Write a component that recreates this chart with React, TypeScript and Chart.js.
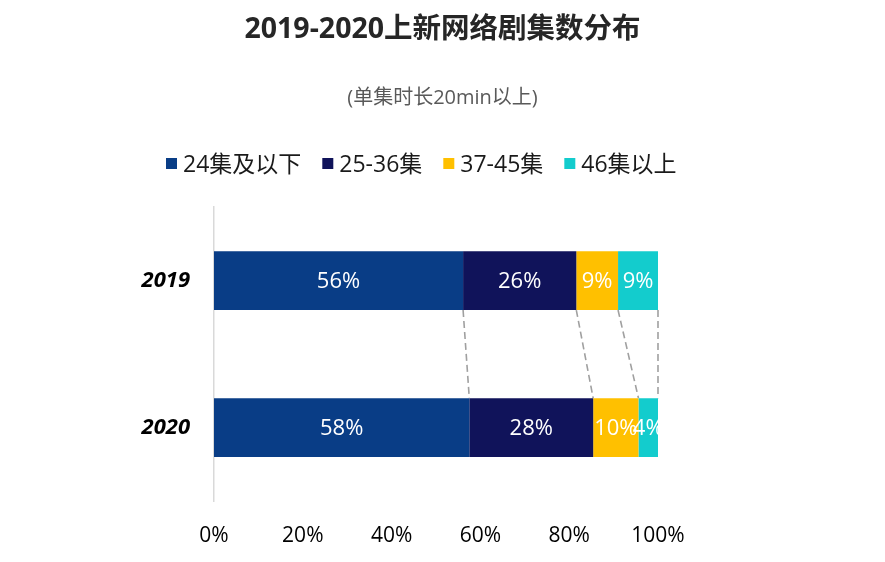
import { useEffect, useRef } from 'react';
import { Chart, registerables } from 'chart.js';

Chart.register(...registerables);

const FONT = '"Open Sans", "Noto Sans CJK SC", sans-serif';

const categories = ['2019', '2020'];
const seriesNames = ['24集及以下', '25-36集', '37-45集', '46集以上'];
const seriesColors = ['#093d86', '#10135a', '#ffc000', '#13cccd'];
const share24Below = [56.1, 57.5];
const share25to36 = [25.5, 27.9];
const share37to45 = [9.4, 10.2];
const share46Above = [9.0, 4.4];
const xTickStep = 20;

const titleText = '2019-2020上新网络剧集数分布';
const subtitleText = '(单集时长20min以上)';

const seriesValues = [share24Below, share25to36, share37to45, share46Above];

const valueLabelPlugin = {
  id: 'valueLabels',
  afterDatasetsDraw(chart: any) {
    const ctx = chart.ctx;
    ctx.save();
    ctx.fillStyle = '#ffffff';
    ctx.font = `22px ${FONT}`;
    ctx.textAlign = 'center';
    ctx.textBaseline = 'middle';
    chart.data.datasets.forEach((ds: any, i: number) => {
      const meta = chart.getDatasetMeta(i);
      meta.data.forEach((el: any, j: number) => {
        const v = ds.data[j];
        ctx.fillText(Math.round(v) + '%', (el.x + el.base) / 2, el.y + 1);
      });
    });
    ctx.restore();
  },
};

const connectorPlugin = {
  id: 'connectors',
  beforeDatasetsDraw(chart: any) {
    const ctx = chart.ctx;
    ctx.save();
    ctx.strokeStyle = '#a0a0a0';
    ctx.lineWidth = 1.6;
    ctx.setLineDash([7, 4]);
    chart.data.datasets.forEach((_ds: any, i: number) => {
      const meta = chart.getDatasetMeta(i);
      const a = meta.data[0];
      const b = meta.data[1];
      if (!a || !b) return;
      ctx.beginPath();
      ctx.moveTo(a.x, a.y + a.height / 2);
      ctx.lineTo(b.x, b.y - b.height / 2);
      ctx.stroke();
    });
    ctx.restore();
  },
};

const customLegendPlugin = {
  id: 'customLegend',
  afterDraw(chart: any) {
    const ctx = chart.ctx;
    ctx.save();
    ctx.font = `23px ${FONT}`;
    ctx.textBaseline = 'middle';
    ctx.textAlign = 'left';
    let x = 166;
    const y = 164;
    const box = 11;
    chart.data.datasets.forEach((ds: any) => {
      ctx.fillStyle = ds.backgroundColor;
      ctx.fillRect(x, y - box / 2 - 0.5, box, box);
      ctx.fillStyle = '#1a1a1a';
      const tx = x + box + 6;
      ctx.fillText(ds.label, tx, y + 1);
      x = tx + ctx.measureText(ds.label).width + 21;
    });
    ctx.restore();
  },
};

export default function App() {
  const ref = useRef<HTMLCanvasElement>(null);
  useEffect(() => {
    document.body.style.margin = '0';
    const chart = new Chart(ref.current as HTMLCanvasElement, {
      type: 'bar',
      data: {
        labels: categories,
        datasets: seriesNames.map((name, i) => ({
          label: name,
          data: seriesValues[i],
          backgroundColor: seriesColors[i],
          borderWidth: 0,
          barPercentage: 0.4,
          categoryPercentage: 1,
        })),
      },
      options: {
        indexAxis: 'y',
        animation: false,
        responsive: true,
        maintainAspectRatio: false,
        layout: { padding: 0 },
        plugins: {
          legend: { display: false },
          tooltip: { enabled: false },
          title: {
            display: true,
            text: titleText,
            color: '#262626',
            font: { family: FONT, size: 28.5, weight: 'bold' },
            padding: { top: 13, bottom: 39 },
          },
          subtitle: {
            display: true,
            text: subtitleText,
            color: '#595959',
            font: { family: FONT, size: 20 },
            padding: { top: 0, bottom: 97 },
          },
        },
        scales: {
          x: {
            type: 'linear',
            stacked: true,
            min: 0,
            max: 100,
            ticks: {
              stepSize: xTickStep,
              callback: (v: any) => v + '%',
              font: { family: FONT, size: 21 },
              color: '#000000',
              padding: 22,
            },
            grid: { display: false, drawTicks: false },
            border: { display: false },
            afterFit: (s: any) => {
              s.height = 61;
            },
          },
          y: {
            type: 'category',
            stacked: true,
            position: 'left',
            ticks: {
              font: { family: FONT, size: 22, weight: 'bold', style: 'italic' },
              color: '#000000',
              padding: 24,
            },
            grid: { display: false, drawTicks: false },
            border: { display: true, color: '#d9d9d9', width: 1.5 },
            afterFit: (s: any) => {
              s.width = 214;
            },
          },
          yRight: {
            type: 'category',
            position: 'right',
            ticks: { display: false },
            grid: { display: false, drawTicks: false },
            border: { display: false },
            afterFit: (s: any) => {
              s.width = 227;
            },
          },
        },
      } as any,
      plugins: [connectorPlugin, valueLabelPlugin, customLegendPlugin],
    });
    return () => chart.destroy();
  }, []);
  return (
    <div style={{ width: 885, height: 562, position: 'relative', background: '#ffffff' }}>
      <canvas ref={ref} />
    </div>
  );
}
